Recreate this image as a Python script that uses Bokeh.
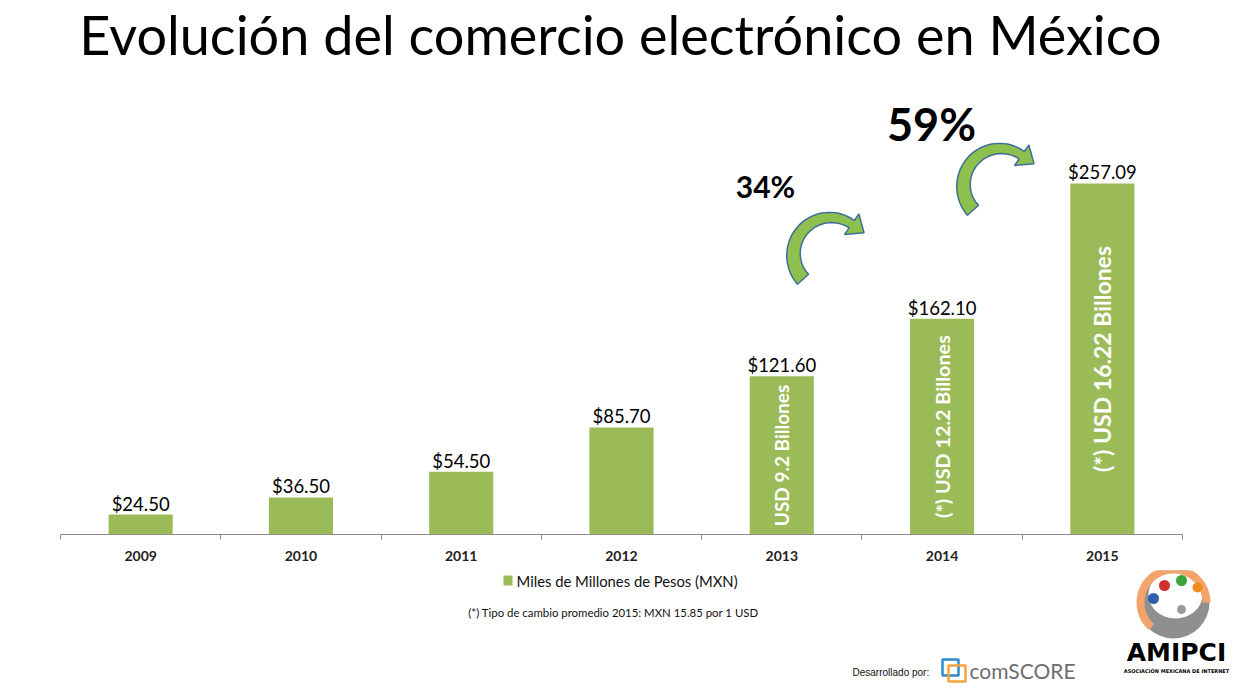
import numpy as np
from bokeh.plotting import figure
from bokeh.layouts import column
from bokeh.models import Range1d, LinearAxis, FixedTicker, ColumnDataSource, Label
from bokeh.core.properties import value
from bokeh.embed import file_html
from bokeh.resources import INLINE

# ---- data -------------------------------------------------------------
years = ["2009", "2010", "2011", "2012", "2013", "2014", "2015"]
sales_mxn = [24.50, 36.50, 54.50, 85.70, 121.60, 162.10, 257.09]   # miles de millones MXN
usd_notes = ["", "", "", "", "USD 9.2 Billones", "(*) USD 12.2 Billones",
             "(*) USD 16.22 Billones"]
usd_note_sizes = ["1px", "1px", "1px", "1px", "19px", "19.8px", "23px"]
growth_labels = ["34%", "59%"]
series_name = "Miles de Millones de Pesos (MXN)"
footnote = "(*) Tipo de cambio promedio 2015: MXN 15.85 por 1 USD"
title_text = "Evolución del comercio electrónico en México"

# ---- layout -----------------------------------------------------------
W, H = 1237, 699
MAIN_H = 570                   # chart part; notes and logos go underneath
LEFT, RIGHT, BOTTOM = 60, 55, 36   # space left/right of the category bands
Y0 = 10.5                      # value axis starts here
PX_PER_UNIT = 1.4235
n = len(years)
BAND = (W - LEFT - RIGHT) / n  # pixels per category band
frame_h = MAIN_H - BOTTOM
y_end = Y0 + frame_h / PX_PER_UNIT


def px_x(px):
    return (px - LEFT) / BAND


def px_y(py):
    return Y0 + (frame_h - py) / PX_PER_UNIT


BAR_GREEN = "#9BBB59"
LATO = value("Lato")

p = figure(width=W, height=MAIN_H,
           x_range=Range1d(-LEFT / BAND, n + RIGHT / BAND), y_range=Range1d(Y0, y_end),
           output_backend="svg", toolbar_location=None,
           x_axis_type=None, y_axis_type=None,
           min_border_left=0, min_border_right=0,
           min_border_top=0, min_border_bottom=BOTTOM)
p.outline_line_color = None
p.background_fill_color = "white"
p.border_fill_color = "white"

centers = [i + 0.5 for i in range(n)]
src = ColumnDataSource(dict(
    x=centers,
    top=sales_mxn,
    mid=[(Y0 + v) / 2 for v in sales_mxn],
    label=[f"${v:.2f}" for v in sales_mxn],
    usd=usd_notes,
    usd_size=usd_note_sizes,
))

bars = p.vbar(x="x", top="top", bottom=Y0, width=0.4, fill_color=BAR_GREEN,
              line_color=None, source=src)

p.text(x="x", y="top", text="label", source=src, y_offset=-11,
       text_align="center", text_baseline="alphabetic",
       text_font=LATO, text_font_size="18.5px", text_color="#000000")

p.text(x="x", y="mid", text="usd", source=src, angle=np.pi / 2,
       text_align="center", text_baseline="middle",
       text_font=LATO, text_font_style="bold",
       text_font_size="usd_size", text_color="white")

# category axis: labels centred in each band, tick marks on band edges
xaxis = LinearAxis(
    ticker=FixedTicker(ticks=centers, minor_ticks=list(range(n + 1))),
    major_label_overrides={c: y for c, y in zip(centers, years)},
    bounds=(0, n),
    axis_line_color="#8C8C8C", axis_line_width=1,
    major_tick_line_color=None,
    minor_tick_line_color="#8C8C8C", minor_tick_in=0, minor_tick_out=5,
    major_label_standoff=10,
    major_label_text_font="Lato", major_label_text_font_style="bold",
    major_label_text_font_size="14px", major_label_text_color="#222222",
)
p.add_layout(xaxis, "below")


# ---- curved growth arrows --------------------------------------------
def curved_arrow(cx, cy, R=37.0, th0=222.0, th1=55.0, w0=7.5, w1=4.5,
                 head_w=12.5, head_len=15.0, steps=40):
    th = np.radians(np.linspace(th0, th1, steps))
    w = np.linspace(w0, w1, steps)
    outer = [(cx + (R + wi) * np.cos(t), cy - (R + wi) * np.sin(t)) for t, wi in zip(th, w)]
    inner = [(cx + (R - wi) * np.cos(t), cy - (R - wi) * np.sin(t)) for t, wi in zip(th, w)]
    t1 = th[-1]
    bx, by = cx + R * np.cos(t1), cy - R * np.sin(t1)
    tx, ty = np.sin(t1), np.cos(t1)
    head = [(cx + (R + head_w) * np.cos(t1), cy - (R + head_w) * np.sin(t1)),
            (bx + head_len * tx, by + head_len * ty),
            (cx + (R - head_w) * np.cos(t1), cy - (R - head_w) * np.sin(t1))]
    pts = outer + head + inner[::-1]
    return [px_x(a) for a, _ in pts], [px_y(b) for _, b in pts]


arrows = [curved_arrow(830, 254), curved_arrow(1000, 185)]
p.patches(xs=[a[0] for a in arrows], ys=[a[1] for a in arrows],
          fill_color="#8DC04E", line_color="#3F6E9A", line_width=1.5)

p.add_layout(Label(x=px_x(765), y=px_y(185), text=growth_labels[0],
                   text_align="center", text_baseline="middle",
                   text_font="Lato", text_font_style="bold",
                   text_font_size="30px", text_color="#000000"))
p.add_layout(Label(x=px_x(931), y=px_y(123), text=growth_labels[1],
                   text_align="center", text_baseline="middle",
                   text_font="Lato", text_font_style="bold",
                   text_font_size="45px", text_color="#000000"))

p.add_layout(Label(x=px_x(620), y=px_y(34), text=title_text,
                   text_align="center", text_baseline="middle",
                   text_font="Lato", text_font_size="54px", text_color="#000000"))

# ---- lower strip: legend key, exchange-rate note, credits -------------
q = figure(width=W, height=H - MAIN_H, x_range=Range1d(0, W), y_range=Range1d(H, MAIN_H),
           output_backend="svg", toolbar_location=None,
           x_axis_type=None, y_axis_type=None,
           min_border_left=0, min_border_right=0, min_border_top=0, min_border_bottom=0)
q.outline_line_color = None
q.background_fill_color = "white"
q.border_fill_color = "white"

# legend key
q.quad(left=[503], right=[512], top=[575], bottom=[585], fill_color=BAR_GREEN, line_color=None)
q.text(x=[516], y=[580], text=[series_name], text_align="left", text_baseline="middle",
       text_font=LATO, text_font_size="14.8px", text_color="#111111")

q.text(x=[613], y=[612], text=[footnote], text_align="center", text_baseline="middle",
       text_font=LATO, text_font_size="11.4px", text_color="#111111")

q.text(x=[852], y=[672], text=["Desarrollado por:"], text_align="left", text_baseline="middle",
       text_font=value("Liberation Sans"), text_font_size="10px", text_color="#111111")

# comScore mark
q.quad(left=[942, 948], right=[958, 965], top=[659, 665], bottom=[675, 681],
       fill_alpha=0, line_color=["#2E8BCB", "#F4A23E"], line_width=2.5)
q.text(x=[969], y=[670], text=["comSCORE"], text_align="left", text_baseline="middle",
       text_font=LATO, text_font_size="21px", text_color="#6D6E71")


# AMIPCI mark
def ring(cx, cy, r_out, r_in, a0, a1, steps=48):
    t = np.radians(np.linspace(a0, a1, steps))
    xs = np.concatenate([cx + r_out * np.cos(t), cx + r_in * np.cos(t[::-1])])
    ys = np.concatenate([cy - r_out * np.sin(t), cy - r_in * np.sin(t[::-1])])
    return list(xs), list(ys)


q.circle(x=[1173], y=[602], radius=36, fill_color="#8F8F8F", line_color=None)
q.ellipse(x=[1175], y=[594], width=54, height=48, fill_color="white", line_color=None)
rx, ry = ring(1173, 602, 37, 29, 0, 228)
q.patch(x=rx, y=ry, fill_color="#F2A46B", line_color=None)
q.circle(x=[1153, 1164, 1181, 1197, 1181], y=[598, 585, 580, 587, 609],
         radius=[5.5, 5.5, 5.5, 5, 4.5],
         fill_color=["#2F5FB3", "#D0302A", "#3BA33C", "#F08A1C", "#9A9A9A"], line_color=None)

q.text(x=[1176], y=[652], text=["AMIPCI"], text_align="center", text_baseline="middle",
       text_font=value("DejaVu Sans"), text_font_style="bold",
       text_font_size="25px", text_color="#000000")
q.text(x=[1176], y=[670.5], text=["ASOCIACIÓN MEXICANA DE INTERNET"],
       text_align="center", text_baseline="middle",
       text_font=value("DejaVu Sans"), text_font_style="bold",
       text_font_size="5px", text_color="#000000")

layout = column(p, q, spacing=0)
open("out.html", "w").write(file_html(layout, INLINE))
